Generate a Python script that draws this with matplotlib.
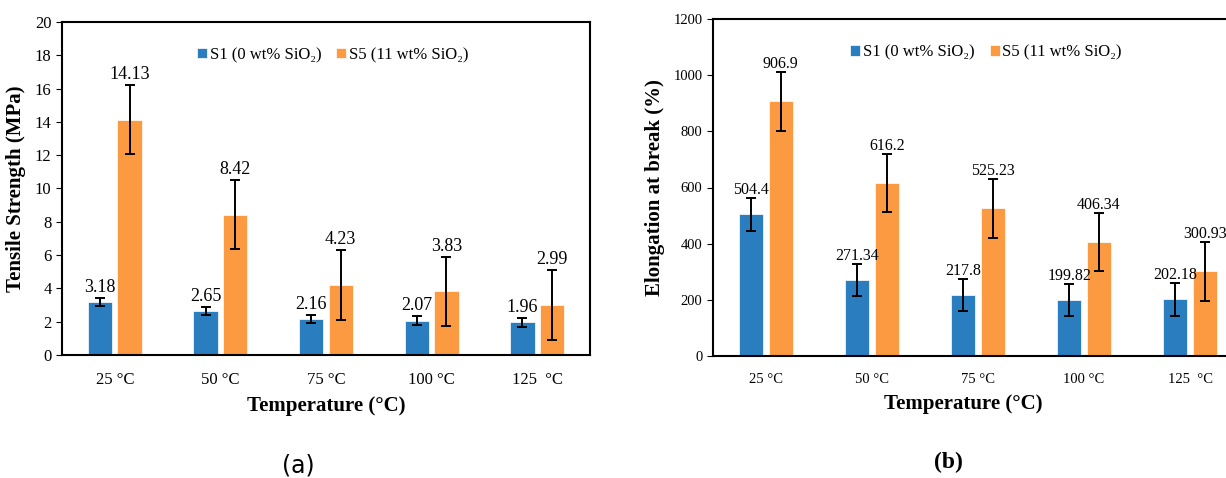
import numpy as np
import matplotlib
matplotlib.use("Agg")
import matplotlib.pyplot as plt

plt.rcParams['font.family'] = ['Liberation Serif', 'DejaVu Serif']

temps = ['25 °C', '50 °C', '75 °C', '100 °C', '125  °C']
series_names = ['S1 (0 wt% SiO₂)', 'S5 (11 wt% SiO₂)']

# tensile strength (MPa)
ts_s1 = [3.18, 2.65, 2.16, 2.07, 1.96]
ts_s5 = [14.13, 8.42, 4.23, 3.83, 2.99]
ts_s1_err = [0.25, 0.25, 0.22, 0.25, 0.25]
ts_s5_err = [2.07, 2.07, 2.1, 2.08, 2.1]

# elongation at break (%)
el_s1 = [504.4, 271.34, 217.8, 199.82, 202.18]
el_s5 = [906.9, 616.2, 525.23, 406.34, 300.93]
el_s1_err = [58, 58, 58, 58, 58]
el_s5_err = [105, 104, 105, 104, 104]

blue = '#2a7dbf'
orange = '#fb9a40'

fig = plt.figure(figsize=(12.26, 4.78), dpi=100)
ax1 = fig.add_axes([62/1226, 1-355/478, 528/1226, 333/478])
ax2 = fig.add_axes([713/1226, 1-356/478, 530/1226, 337/478])


def draw(ax, s1, s5, e1, e5, ymax, ystep, ylabel, lab_off, tick_fs, lab_fs, fmt, leg_x):
    x = np.arange(len(temps))
    w = 0.23
    d = 0.14
    for vals, errs, col, off, name in [(s1, e1, blue, -d, series_names[0]),
                                       (s5, e5, orange, d, series_names[1])]:
        ax.bar(x + off, vals, w, color=col, edgecolor='white', linewidth=0.5,
               label=name, zorder=2)
        ax.errorbar(x + off, vals, yerr=errs, fmt='none', ecolor='black',
                    elinewidth=1.4, capsize=3.5, capthick=1.4, zorder=3)
        for xi, v, e in zip(x + off, vals, errs):
            ax.annotate(fmt(v), (xi, v + e), xytext=(0, lab_off),
                        textcoords='offset points', ha='center', va='bottom',
                        fontsize=lab_fs)
    ax.set_xlim(-0.5, len(temps) - 0.5)
    ax.set_ylim(0, ymax)
    ax.set_yticks(np.arange(0, ymax + ystep / 2, ystep))
    ax.set_xticks(x)
    ax.set_xticklabels(temps, fontsize=tick_fs)
    ax.tick_params(axis='y', labelsize=tick_fs, direction='out', length=4)
    ax.tick_params(axis='x', length=0, pad=12)
    ax.set_xlabel('Temperature (°C)', fontsize=15, fontweight='bold', labelpad=6)
    ax.set_ylabel(ylabel, fontsize=15, fontweight='bold', labelpad=6)
    for sp in ax.spines.values():
        sp.set_linewidth(1.5)
    ax.legend(loc='upper center', ncol=2, frameon=False, fontsize=12,
              handlelength=0.6, handleheight=0.6, handletextpad=0.15,
              columnspacing=0.9, bbox_to_anchor=(leg_x, 0.97))


draw(ax1, ts_s1, ts_s5, ts_s1_err, ts_s5_err, 20, 2, 'Tensile Strength (MPa)',
     1.5, 12, 13, lambda v: f'{v:.2f}', 0.513)
draw(ax2, el_s1, el_s5, el_s1_err, el_s5_err, 1200, 200, 'Elongation at break (%)',
     0, 10.5, 11.5, lambda v: f'{v:g}', 0.515)
ax2.xaxis.label.set_x(0.472)

fig.text(298/1226, 1-465/478, '(a)', ha='center', va='center', fontsize=17,
         family='DejaVu Sans')
fig.text(948/1226, 1-462/478, '(b)', ha='center', va='center', fontsize=17,
         family=['Liberation Serif'], fontweight='bold')

fig.savefig('out.png', dpi=100)
